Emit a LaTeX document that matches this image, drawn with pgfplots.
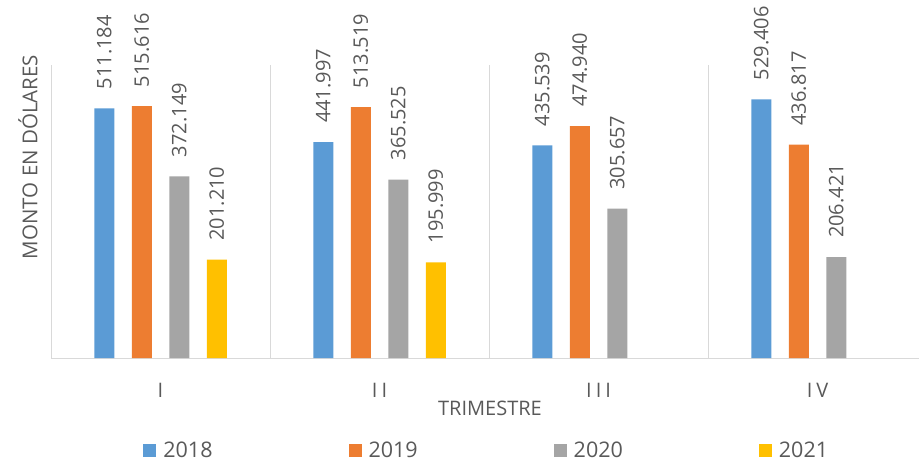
\documentclass[border=0pt]{standalone}
\usepackage{pgfplots}
\pgfplotsset{compat=1.18}
\usepackage{fontspec}
\setmainfont{Open Sans}
\definecolor{c18}{HTML}{5B9BD5}
\definecolor{c19}{HTML}{ED7D31}
\definecolor{c20}{HTML}{A5A5A5}
\definecolor{c21}{HTML}{FFC000}
\definecolor{txt}{HTML}{595959}
\definecolor{gridc}{HTML}{D9D9D9}
\begin{document}
\begin{tikzpicture}
\useasboundingbox (0,0) rectangle (919pt,461pt);
\begin{axis}[
  at={(51pt,103pt)}, anchor=south west,
  scale only axis, width=868pt, height=293pt,
  xmin=-0.5, xmax=3.463, ymin=0, ymax=600,
  clip=false,
  ybar=17.5pt, bar width=20pt,
  axis line style={draw=none},
  xtick={0,1,2,3},
  xticklabels={I, I\kern4pt I, I\kern4pt I\kern4pt I, I\kern4pt V},
  minor xtick={-0.5,0.5,1.5,2.5},
  xminorgrids=true,
  minor grid style={draw=gridc, line width=1pt},
  major tick length=0pt, minor tick length=0pt,
  ytick=\empty,
  extra y ticks={0}, extra y tick labels={},
  extra y tick style={grid=major, major grid style={draw=gridc, line width=1pt}, major tick length=0pt},
  xticklabel style={font=\fontsize{20}{24}\selectfont, text=txt, yshift=-22pt},
  xlabel={TRIMESTRE},
  xlabel style={at={(axis description cs:0.5057,-0.171)}, anchor=center, font=\fontsize{20}{24}\selectfont, text=txt},
  ylabel={MONTO EN DÓLARES},
  ylabel style={at={(axis description cs:-0.0265,0.686)}, anchor=center, font=\fontsize{20.5}{24}\selectfont, text=txt},
  nodes near coords,
  nodes near coords style={rotate=90, anchor=west, inner xsep=19pt, inner ysep=0pt, font=\fontsize{20}{24}\selectfont, text=txt,
    /pgf/number format/.cd, fixed, fixed zerofill, precision=3, 1000 sep={}, assume math mode=true},
  legend columns=4,
  legend style={at={(axis description cs:0.502,-0.314)}, anchor=center, draw=none, fill=none,
    font=\fontsize{21.5}{24}\selectfont, text=txt,
    /tikz/every odd column/.append style={column sep=5pt},
    /tikz/every even column/.append style={column sep=134pt}},
  legend image code/.code={\fill[#1] (0pt,-6.5pt) rectangle (13pt,6.5pt);},
]
\addplot[fill=c18, draw=none] coordinates {(0,511.184) (1,441.997) (2,435.539) (3,529.406)};
\addplot[fill=c19, draw=none] coordinates {(0,515.616) (1,513.519) (2,474.940) (3,436.817)};
\addplot[fill=c20, draw=none] coordinates {(0,372.149) (1,365.525) (2,305.657) (3,206.421)};
\addplot[fill=c21, draw=none] coordinates {(0,201.210) (1,195.999)};
\legend{2018,2019,2020,2021}
\end{axis}
\end{tikzpicture}
\end{document}
